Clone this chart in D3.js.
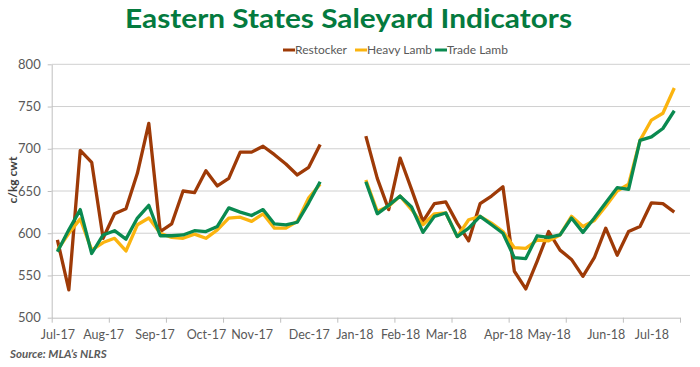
<!DOCTYPE html>
<html>
<head>
<meta charset="utf-8">
<script src="https://cdn.jsdelivr.net/npm/d3@7"></script>
<style>
  body { margin: 0; background: #fff; }
  text { font-family: Lato, "Open Sans", sans-serif; }
  .axis text { fill: #595959; font-size: 12.5px; }
  .axis path, .axis line { stroke: #bfbfbf; }
</style>
</head>
<body>
<div id="vis"></div>
<script>
// Eastern States Saleyard Indicators - weekly c/kg cwt, Jul-17 to Jul-18

// 55 weekly categories; the 3 weeks over Christmas / early Jan have no sales (null)
var restocker = [592, 533, 698, 684, 594, 623, 629, 671, 730, 602, 611, 650, 648, 674, 656, 665,
  696, 696, 703, 693, 682, 669, 678, 705, null, null, null,
  715, 665, 628, 689, 652, 614, 635, 637, 612, 591, 635, 644, 655, 555, 534, 567, 602, 580,
  569, 549, 571, 606, 574, 602, 608, 636, 635, 625];
var heavyLamb = [580, 600, 617, 580, 589, 594, 579, 610, 618, 600, 595, 594, 599, 594, 604, 618,
  619, 614, 623, 606, 606, 614, 642, 658, null, null, null,
  663, 626, 632, 644, 628, 610, 623, 624, 596, 616, 620, 612, 602, 583, 582, 592, 591, 598,
  620, 608, 615, 632, 650, 658, 710, 734, 742, 772];
var tradeLamb = [578, 604, 628, 576, 598, 603, 593, 618, 633, 597, 597, 598, 603, 602, 608, 630,
  625, 621, 628, 611, 610, 613, 636, 661, null, null, null,
  661, 623, 633, 644, 631, 601, 620, 624, 596, 606, 620, 610, 600, 571, 570, 597, 595, 598,
  618, 601, 618, 636, 654, 652, 710, 714, 724, 745];

// month labels and the week (category index) they sit under
var monthLabels = ['Jul-17', 'Aug-17', 'Sep-17', 'Oct-17', 'Nov-17', 'Dec-17', 'Jan-18',
  'Feb-18', 'Mar-18', 'Apr-18', 'May-18', 'Jun-18', 'Jul-18'];
var monthWeek = [0, 4, 8.5, 13, 17, 22, 26, 30, 34, 39, 43, 48, 52];

var yTicks = [500, 550, 600, 650, 700, 750, 800];

var series = [
  { name: 'Restocker',  values: restocker, color: '#9e3a07' },
  { name: 'Heavy Lamb', values: heavyLamb, color: '#fbb40f' },
  { name: 'Trade Lamb', values: tradeLamb, color: '#0a8a50' }
];

var W = 700, H = 367;
var plot = { left: 51.7, right: 680, top: 64.3, bottom: 317.7 };

var svg = d3.select('#vis').append('svg')
  .attr('width', W).attr('height', H);

svg.append('rect').attr('width', W).attr('height', H).attr('fill', '#fff');

var x = d3.scaleLinear().domain([0, restocker.length]).range([plot.left, plot.right]);
var y = d3.scaleLinear().domain([500, 800]).range([plot.bottom, plot.top]);

// title
svg.append('text')
  .attr('x', 125).attr('y', 28)
  .attr('textLength', 447).attr('lengthAdjust', 'spacingAndGlyphs')
  .style('font-size', '27px').style('font-weight', 'bold')
  .attr('fill', '#047a3e')
  .text('Eastern States Saleyard Indicators');

// gridlines
svg.append('g').selectAll('line')
  .data(yTicks.filter(d => d > 500))
  .join('line')
  .attr('x1', plot.left).attr('x2', plot.right + 10)
  .attr('y1', d => y(d)).attr('y2', d => y(d))
  .attr('stroke', '#d0d0d0').attr('stroke-width', 1);

// y axis
svg.append('g').attr('class', 'axis')
  .attr('transform', `translate(${plot.left},0)`)
  .call(d3.axisLeft(y).tickValues(yTicks).tickSize(4).tickPadding(7).tickSizeOuter(0))
  .call(g => g.selectAll('text').style('font-size', '13px'));

// x axis: tick marks every 5 weeks
svg.append('g').attr('class', 'axis')
  .attr('transform', `translate(0,${plot.bottom})`)
  .call(d3.axisBottom(x).tickValues(d3.range(0, restocker.length + 1, 5))
    .tickSize(5).tickSizeOuter(0).tickFormat(''));

// x axis month labels
svg.append('g').attr('class', 'axis')
  .attr('transform', `translate(0,${plot.bottom})`)
  .call(d3.axisBottom(x).tickValues(monthWeek.map(d => d + 0.5))
    .tickSize(0).tickPadding(12)
    .tickFormat((d, i) => monthLabels[i]))
  .call(g => g.select('.domain').remove());

// y label
svg.append('text')
  .attr('transform', 'translate(17,180) rotate(-90)')
  .attr('text-anchor', 'middle')
  .style('font-size', '12px').style('font-weight', 'bold')
  .attr('fill', '#404040')
  .text('c/kg cwt');

// lines
var line = d3.line()
  .defined(d => d != null)
  .x((d, i) => x(i + 0.5))
  .y(d => y(d));

svg.append('g').selectAll('path')
  .data(series)
  .join('path')
  .attr('d', d => line(d.values))
  .attr('fill', 'none')
  .attr('stroke', d => d.color)
  .attr('stroke-width', 3.3)
  .attr('stroke-linejoin', 'round');

// legend
var legendX = [283, 355, 435];
var legend = svg.append('g').selectAll('g')
  .data(series)
  .join('g')
  .attr('transform', (d, i) => `translate(${legendX[i]},50)`);
legend.append('line')
  .attr('x1', 0).attr('x2', 12)
  .attr('stroke', d => d.color).attr('stroke-width', 3);
legend.append('text')
  .attr('x', 12).attr('dy', '0.35em')
  .style('font-size', '12px').attr('fill', '#595959')
  .text(d => d.name);

// source
svg.append('text')
  .attr('x', 10).attr('y', 358)
  .style('font-size', '11.5px').style('font-weight', 'bold').style('font-style', 'italic')
  .attr('fill', '#595959')
  .text('Source: MLA\u2019s NLRS');
</script>
</body>
</html>
